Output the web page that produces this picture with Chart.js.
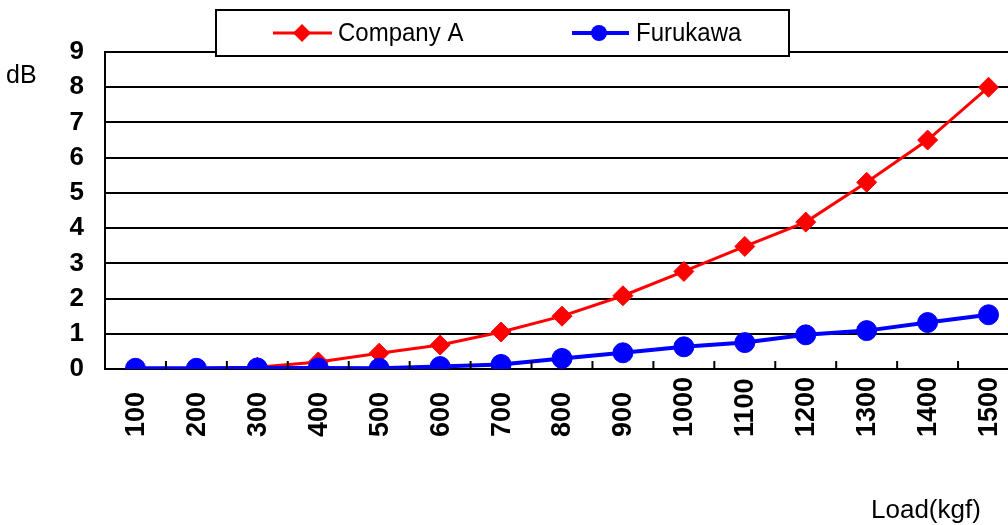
<!DOCTYPE html>
<html>
<head>
<meta charset="utf-8">
<script src="https://cdn.jsdelivr.net/npm/chart.js@4"></script>
<style>
html,body{margin:0;padding:0;background:#fff;overflow:hidden;}
#wrap{width:1030px;height:525px;position:relative;}
</style>
</head>
<body>
<div id="wrap"><canvas id="c" width="1030" height="525"></canvas></div>
<script>
const loads = ['100','200','300','400','500','600','700','800','900','1000','1100','1200','1300','1400','1500'];
const companyA = [0, 0, 0.05, 0.2, 0.45, 0.68, 1.05, 1.5, 2.08, 2.77, 3.48, 4.17, 5.3, 6.5, 8.0];
const furukawa = [0.02, 0.02, 0.03, 0.03, 0.02, 0.07, 0.13, 0.3, 0.46, 0.63, 0.75, 0.97, 1.09, 1.32, 1.54];
const yTicks = [0,1,2,3,4,5,6,7,8,9];
const seriesNames = ['Company A','Furukawa'];
const yUnit = 'dB';
const xTitle = 'Load(kgf)';

const FONT = "'Liberation Sans', Arial, sans-serif";

const decor = {
  id: 'decor',
  afterDraw(chart) {
    const ctx = chart.ctx;
    const xs = chart.scales.x;
    const area = chart.chartArea;
    ctx.save();
    // inner tick marks on x axis at category boundaries
    ctx.strokeStyle = '#000';
    ctx.lineWidth = 2;
    for (let i = 1; i < loads.length; i++) {
      const bx = (xs.getPixelForValue(i - 1) + xs.getPixelForValue(i)) / 2;
      ctx.beginPath();
      ctx.moveTo(bx, area.bottom);
      ctx.lineTo(bx, area.bottom - 8);
      ctx.stroke();
    }
    // rotated x tick labels, anchored at bottom
    ctx.fillStyle = '#000';
    ctx.font = 'bold 27px ' + FONT;
    loads.forEach((lab, i) => {
      const px = xs.getPixelForValue(i);
      ctx.save();
      ctx.translate(px, 437);
      ctx.rotate(-Math.PI / 2);
      ctx.textAlign = 'left';
      ctx.textBaseline = 'middle';
      ctx.fillText(lab, 0, 1);
      ctx.restore();
    });
    // axis unit and title
    ctx.font = '25px ' + FONT;
    ctx.textAlign = 'left';
    ctx.textBaseline = 'alphabetic';
    ctx.fillText(yUnit, 6, 83);
    ctx.font = '26px ' + FONT;
    ctx.fillText(xTitle, 871, 518);
    // legend
    ctx.fillStyle = '#fff';
    ctx.fillRect(216, 10, 573, 46);
    ctx.strokeStyle = '#000';
    ctx.lineWidth = 2;
    ctx.strokeRect(216, 10, 573, 46);
    const ly = 33;
    const items = [
      {x0: 273, x1: 332, mx: 302, tx: 338},
      {x0: 572, x1: 629, mx: 599, tx: 636}
    ];
    chart.data.datasets.forEach((ds, i) => {
      const it = items[i];
      ctx.strokeStyle = ds.borderColor;
      ctx.fillStyle = ds.borderColor;
      ctx.lineWidth = ds.borderWidth;
      ctx.beginPath();
      ctx.moveTo(it.x0, ly);
      ctx.lineTo(it.x1, ly);
      ctx.stroke();
      ctx.beginPath();
      if (ds.pointStyle === 'rectRot') {
        const r = 9;
        ctx.moveTo(it.mx, ly - r);
        ctx.lineTo(it.mx + r, ly);
        ctx.lineTo(it.mx, ly + r);
        ctx.lineTo(it.mx - r, ly);
        ctx.closePath();
      } else {
        ctx.arc(it.mx, ly, 8, 0, Math.PI * 2);
      }
      ctx.fill();
      ctx.fillStyle = '#000';
      ctx.save();
      ctx.translate(it.tx, ly + 1);
      ctx.scale(1, 1.1);
      ctx.font = '24px ' + FONT;
      ctx.textBaseline = 'middle';
      ctx.fillText(ds.label, 0, 0);
      ctx.restore();
    });
    ctx.restore();
  }
};

new Chart(document.getElementById('c'), {
  type: 'line',
  data: {
    labels: loads,
    datasets: [
      {
        label: seriesNames[0],
        data: companyA,
        borderColor: '#ff0000',
        backgroundColor: '#ff0000',
        borderWidth: 3,
        pointStyle: 'rectRot',
        pointRadius: 10,
        pointBorderWidth: 1,
        tension: 0,
        order: 2
      },
      {
        label: seriesNames[1],
        data: furukawa,
        borderColor: '#0000ff',
        backgroundColor: '#0000ff',
        borderWidth: 4,
        pointStyle: 'circle',
        pointRadius: 10,
        pointBorderWidth: 1,
        tension: 0,
        order: 1
      }
    ]
  },
  options: {
    responsive: false,
    animation: false,
    devicePixelRatio: 1,
    layout: { padding: { top: 52, right: 8, left: 0, bottom: 0 } },
    plugins: { legend: { display: false }, tooltip: { enabled: false } },
    scales: {
      x: {
        offset: true,
        grid: { display: false, drawTicks: false },
        border: { display: true, color: '#000', width: 2 },
        ticks: { display: false },
        afterFit(s) { s.height = 156; }
      },
      y: {
        min: yTicks[0],
        max: yTicks[yTicks.length - 1],
        afterBuildTicks(s) { s.ticks = yTicks.map(v => ({ value: v })); },
        grid: { color: '#000', lineWidth: 2, drawTicks: false },
        border: { display: true, color: '#000', width: 2 },
        ticks: {
          color: '#000',
          padding: 21,
          font: { family: FONT, size: 26, weight: 'bold' }
        },
        afterFit(s) { s.width = 105; }
      }
    }
  },
  plugins: [decor]
});
</script>
</body>
</html>
